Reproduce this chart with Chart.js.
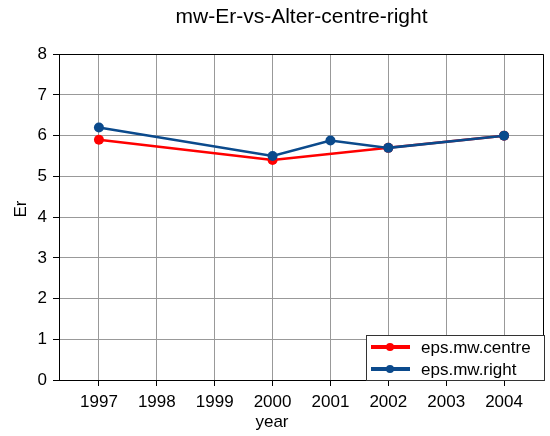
<!DOCTYPE html>
<html>
<head>
<meta charset="utf-8">
<script src="https://cdn.jsdelivr.net/npm/chart.js@4/dist/chart.umd.min.js"></script>
<style>
html,body{margin:0;padding:0;background:#fff;}
#wrap{width:550px;height:436px;}
</style>
</head>
<body>
<div id="wrap"><canvas id="c" width="550" height="436"></canvas></div>
<script>
const titleText = "mw-Er-vs-Alter-centre-right";
const xLabel = "year";
const yLabel = "Er";
const xTicks = [1997, 1998, 1999, 2000, 2001, 2002, 2003, 2004];
const yTicks = [0, 1, 2, 3, 4, 5, 6, 7, 8];
const centreYears = [1997, 2000, 2002, 2004];
const centreValues = [5.9, 5.4, 5.7, 6.0];
const rightYears = [1997, 2000, 2001, 2002, 2004];
const rightValues = [6.2, 5.5, 5.88, 5.7, 6.0];
const seriesNames = ["eps.mw.centre", "eps.mw.right"];
const seriesColors = ["#ff0000", "#0b4a8c"];

const FONT = "'Liberation Sans', Arial, sans-serif";

const toPoints = (xs, ys) => xs.map((x, i) => ({x: x, y: ys[i]}));

const extrasPlugin = {
  id: 'extras',
  afterDraw(chart) {
    const ctx = chart.ctx;
    const a = chart.chartArea;
    ctx.save();
    // frame top and right
    ctx.strokeStyle = '#000';
    ctx.lineWidth = 1;
    const top = Math.round(a.top) + 0.5;
    const right = Math.round(a.right) - 0.5;
    ctx.beginPath();
    ctx.moveTo(Math.round(a.left), top);
    ctx.lineTo(right, top);
    ctx.lineTo(right, Math.round(a.bottom));
    ctx.stroke();
    // axis titles
    ctx.fillStyle = '#000';
    ctx.font = "17px " + FONT;
    ctx.textAlign = 'center';
    ctx.textBaseline = 'middle';
    ctx.fillText(xLabel, 272, 422);
    ctx.save();
    ctx.translate(21, 209);
    ctx.rotate(-Math.PI / 2);
    ctx.fillText(yLabel, 0, 0);
    ctx.restore();
    // legend
    const bx = 366.5, by = 335.5, bw = 178, bh = 45;
    ctx.fillStyle = '#fff';
    ctx.fillRect(bx, by, bw, bh);
    ctx.strokeStyle = '#333';
    ctx.lineWidth = 1;
    ctx.strokeRect(bx, by, bw, bh);
    const rows = [347, 369];
    ctx.textAlign = 'left';
    ctx.textBaseline = 'middle';
    ctx.font = "17px " + FONT;
    seriesNames.forEach((name, i) => {
      const y = rows[i];
      ctx.strokeStyle = seriesColors[i];
      ctx.lineWidth = 4;
      ctx.beginPath();
      ctx.moveTo(371, y);
      ctx.lineTo(410, y);
      ctx.stroke();
      ctx.fillStyle = seriesColors[i];
      ctx.beginPath();
      ctx.arc(390, y, 4, 0, Math.PI * 2);
      ctx.fill();
      ctx.fillStyle = '#000';
      ctx.fillText(name, 421, y + 1);
    });
    ctx.restore();
  }
};

new Chart(document.getElementById('c'), {
  type: 'line',
  data: {
    datasets: [
      {
        label: seriesNames[0],
        data: toPoints(centreYears, centreValues),
        borderColor: seriesColors[0],
        backgroundColor: seriesColors[0],
        borderWidth: 2.5,
        pointRadius: 5,
        pointHoverRadius: 5,
        pointBorderWidth: 0,
        tension: 0,
        order: 1
      },
      {
        label: seriesNames[1],
        data: toPoints(rightYears, rightValues),
        borderColor: seriesColors[1],
        backgroundColor: seriesColors[1],
        borderWidth: 2.5,
        pointRadius: 5,
        pointHoverRadius: 5,
        pointBorderWidth: 0,
        tension: 0,
        order: 0
      }
    ]
  },
  options: {
    responsive: false,
    animation: false,
    events: [],
    layout: {padding: {left: 0, right: 6, top: 0, bottom: 0}},
    plugins: {
      legend: {display: false},
      tooltip: {enabled: false},
      title: {
        display: true,
        text: titleText,
        fullSize: false,
        color: '#000',
        font: {family: FONT, size: 21, weight: 'normal'},
        padding: {top: 5, bottom: 24}
      }
    },
    scales: {
      x: {
        type: 'linear',
        min: 1996.31,
        max: 2004.69,
        afterBuildTicks: (axis) => { axis.ticks = xTicks.map(v => ({value: v})); },
        afterFit: (s) => { s.height = 56; },
        ticks: {
          color: '#000',
          font: {family: FONT, size: 17},
          padding: 6,
          maxRotation: 0,
          autoSkip: false,
          callback: (v) => String(v)
        },
        grid: {color: '#999', tickColor: '#000', tickLength: 6, drawTicks: true},
        border: {color: '#000'}
      },
      y: {
        type: 'linear',
        min: 0,
        max: 8,
        afterBuildTicks: (axis) => { axis.ticks = yTicks.map(v => ({value: v})); },
        afterFit: (s) => { s.width = 59; },
        ticks: {
          color: '#000',
          font: {family: FONT, size: 17},
          padding: 6,
          callback: (v) => String(v)
        },
        grid: {color: '#999', tickColor: '#000', tickLength: 6, drawTicks: true},
        border: {color: '#000'}
      }
    }
  },
  plugins: [extrasPlugin]
});
</script>
</body>
</html>
